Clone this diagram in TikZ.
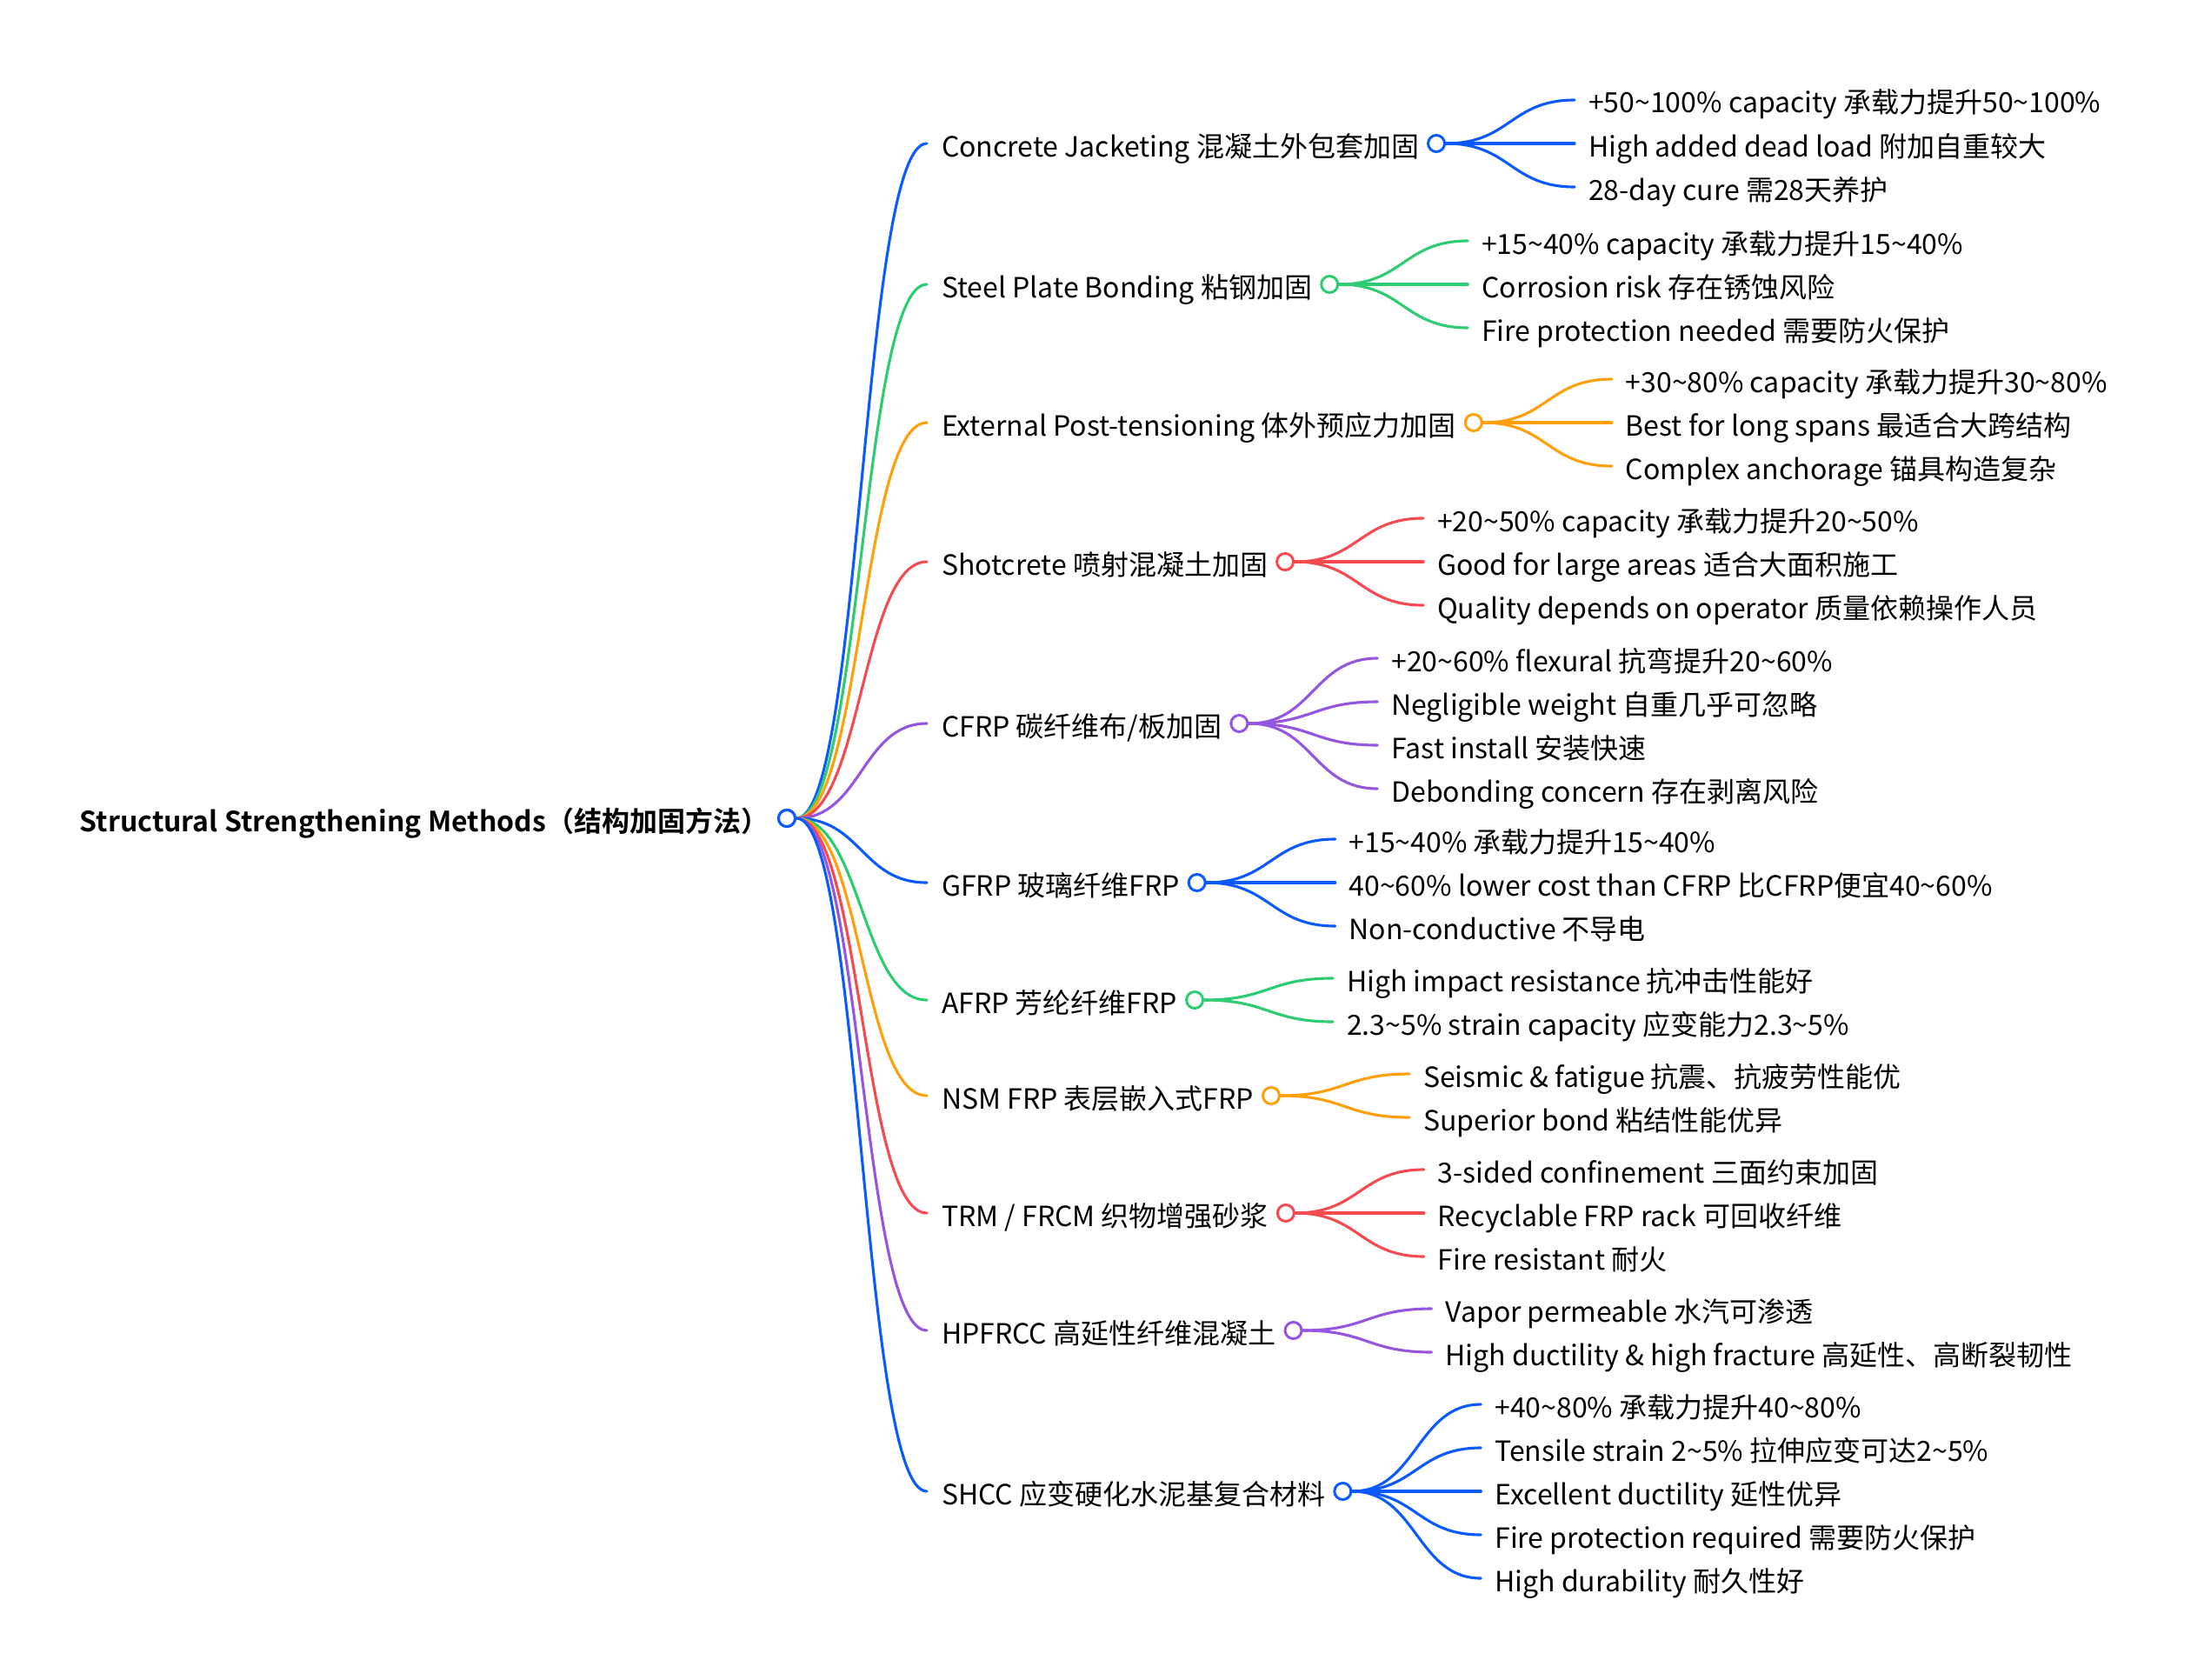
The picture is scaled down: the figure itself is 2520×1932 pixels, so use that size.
\documentclass[tikz,border=0pt]{standalone}
\usepackage{fontspec}
\setmainfont{Noto Sans CJK SC}[BoldFont={Noto Sans CJK SC Bold}]
\usetikzlibrary{calc}
\definecolor{mblue}{RGB}{10,90,255}
\definecolor{mgreen}{RGB}{46,204,113}
\definecolor{morange}{RGB}{255,159,10}
\definecolor{mred}{RGB}{245,75,80}
\definecolor{mpurple}{RGB}{150,85,225}
\newcommand\tld{\textasciitilde}
\tikzset{
  ctext/.style={anchor=base west,inner sep=0pt,outer sep=0pt,font=\fontsize{32}{38}\selectfont,text=black},
  ltext/.style={ctext},
  roottext/.style={anchor=base east,inner sep=0pt,outer sep=0pt,font=\fontsize{32}{38}\selectfont\bfseries,text=black},
  dot/.style={circle,minimum size=19pt,inner sep=0pt,line width=3pt,fill=white},
  link/.style={line width=3.1pt,line cap=round}
}
\newcommand\child[4]{%
  \node[ctext] (#1) at (1083,#2+15) {#4};
  \node[dot,draw=#3] (#1d) at ($(#1.base east)+(20,-15)$) {};
  \draw[link,#3] (rd.east) .. controls (991,941) and (991,#2) .. ($(#1.base west)+(-17,-15)$);
}
\newcommand\leaf[5]{%
  \node[ltext] (#2) at ($(#1)+(175,#3+15)$) {#5};
  \draw[link,#4] (#1.east) .. controls ($(#1)+(85,0)$) and ($(#1)+(85,#3)$) .. ($(#2.base west)+(-16,-15)$);
}
\begin{document}
\begin{tikzpicture}[x=1pt,y=-1pt]
\useasboundingbox[fill=white] (0,0) rectangle (2520,1932);
\node[roottext] (root) at (884,956) {Structural Strengthening Methods（结构加固方法）};
\node[dot,draw=mblue] (rd) at (905,941) {};

\child{c1}{165}{mblue}{Concrete Jacketing 混凝土外包套加固}
\child{c2}{327}{mgreen}{Steel Plate Bonding 粘钢加固}
\child{c3}{486}{morange}{External Post-tensioning 体外预应力加固}
\child{c4}{646}{mred}{Shotcrete 喷射混凝土加固}
\child{c5}{832}{mpurple}{CFRP 碳纤维布/板加固}
\child{c6}{1015}{mblue}{GFRP 玻璃纤维FRP}
\child{c7}{1150}{mgreen}{AFRP 芳纶纤维FRP}
\child{c8}{1260}{morange}{NSM FRP 表层嵌入式FRP}
\child{c9}{1395}{mred}{TRM / FRCM 织物增强砂浆}
\child{c10}{1530}{mpurple}{HPFRCC 高延性纤维混凝土}
\child{c11}{1715}{mblue}{SHCC 应变硬化水泥基复合材料}
\node[dot,draw=mblue] at (rd) {};

\leaf{c1d}{l1a}{-50}{mblue}{+50\tld100\% capacity 承载力提升50\tld100\%}
\leaf{c1d}{l1b}{0}{mblue}{High added dead load 附加自重较大}
\leaf{c1d}{l1c}{50}{mblue}{28-day cure 需28天养护}

\leaf{c2d}{l2a}{-50}{mgreen}{+15\tld40\% capacity 承载力提升15\tld40\%}
\leaf{c2d}{l2b}{0}{mgreen}{Corrosion risk 存在锈蚀风险}
\leaf{c2d}{l2c}{50}{mgreen}{Fire protection needed 需要防火保护}

\leaf{c3d}{l3a}{-50}{morange}{+30\tld80\% capacity 承载力提升30\tld80\%}
\leaf{c3d}{l3b}{0}{morange}{Best for long spans 最适合大跨结构}
\leaf{c3d}{l3c}{50}{morange}{Complex anchorage 锚具构造复杂}

\leaf{c4d}{l4a}{-50}{mred}{+20\tld50\% capacity 承载力提升20\tld50\%}
\leaf{c4d}{l4b}{0}{mred}{Good for large areas 适合大面积施工}
\leaf{c4d}{l4c}{50}{mred}{Quality depends on operator 质量依赖操作人员}

\leaf{c5d}{l5a}{-75}{mpurple}{+20\tld60\% flexural 抗弯提升20\tld60\%}
\leaf{c5d}{l5b}{-25}{mpurple}{Negligible weight 自重几乎可忽略}
\leaf{c5d}{l5c}{25}{mpurple}{Fast install 安装快速}
\leaf{c5d}{l5d}{75}{mpurple}{Debonding concern 存在剥离风险}

\leaf{c6d}{l6a}{-50}{mblue}{+15\tld40\% 承载力提升15\tld40\%}
\leaf{c6d}{l6b}{0}{mblue}{40\tld60\% lower cost than CFRP 比CFRP便宜40\tld60\%}
\leaf{c6d}{l6c}{50}{mblue}{Non-conductive 不导电}

\leaf{c7d}{l7a}{-25}{mgreen}{High impact resistance 抗冲击性能好}
\leaf{c7d}{l7b}{25}{mgreen}{2.3\tld5\% strain capacity 应变能力2.3\tld5\%}

\leaf{c8d}{l8a}{-25}{morange}{Seismic \& fatigue 抗震、抗疲劳性能优}
\leaf{c8d}{l8b}{25}{morange}{Superior bond 粘结性能优异}

\leaf{c9d}{l9a}{-50}{mred}{3-sided confinement 三面约束加固}
\leaf{c9d}{l9b}{0}{mred}{Recyclable FRP rack 可回收纤维}
\leaf{c9d}{l9c}{50}{mred}{Fire resistant 耐火}

\leaf{c10d}{l10a}{-25}{mpurple}{Vapor permeable 水汽可渗透}
\leaf{c10d}{l10b}{25}{mpurple}{High ductility \& high fracture 高延性、高断裂韧性}

\leaf{c11d}{l11a}{-100}{mblue}{+40\tld80\% 承载力提升40\tld80\%}
\leaf{c11d}{l11b}{-50}{mblue}{Tensile strain 2\tld5\% 拉伸应变可达2\tld5\%}
\leaf{c11d}{l11c}{0}{mblue}{Excellent ductility 延性优异}
\leaf{c11d}{l11d}{50}{mblue}{Fire protection required 需要防火保护}
\leaf{c11d}{l11e}{100}{mblue}{High durability 耐久性好}
\end{tikzpicture}
\end{document}
